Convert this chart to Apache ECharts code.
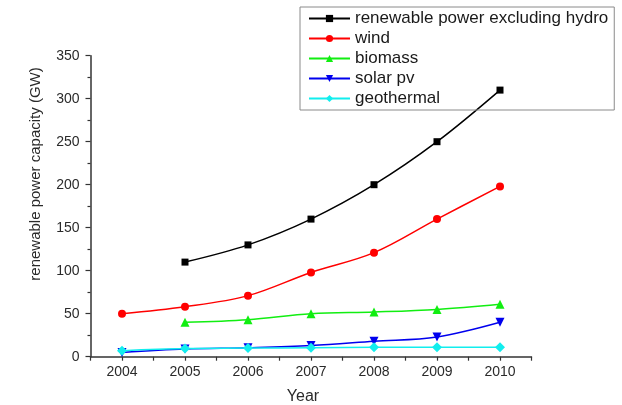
<!DOCTYPE html>
<html>
<head>
<meta charset="utf-8">
<script src="https://cdn.jsdelivr.net/npm/echarts@6/dist/echarts.min.js"></script>
<style>
html,body{margin:0;padding:0;background:#fff;}
#chart{width:622px;height:405px;}
</style>
</head>
<body>
<div id="chart"></div>
<script>
var years = [2004, 2005, 2006, 2007, 2008, 2009, 2010];
var seriesNames = ['renewable power excluding hydro', 'wind', 'biomass', 'solar pv', 'geothermal'];
var renewableExHydro = [null, 110, 130, 160, 200, 250, 310];
var wind = [50, 58, 71, 98, 121, 160, 198];
var biomass = [null, 40, 43, 50, 52, 55, 61];
var solarPv = [5, 9, 10.5, 13, 18, 23, 40];
var geothermal = [7, 9.5, 10, 10.5, 11, 11, 11];
var yTicks = [0, 50, 100, 150, 200, 250, 300, 350];
var xTitle = 'Year';
var yTitle = 'renewable power capacity (GW)';

function pairs(vals) {
  var out = [];
  for (var i = 0; i < years.length; i++) {
    if (vals[i] !== null) out.push([years[i], vals[i]]);
  }
  return out;
}

var styles = [
  {color: '#000000', symbol: 'rect', size: 7, rot: 0},
  {color: '#ff0000', symbol: 'circle', size: 8, rot: 0},
  {color: '#11ee11', symbol: 'triangle', size: 9, rot: 0},
  {color: '#0000ee', symbol: 'triangle', size: 9, rot: 180},
  {color: '#11eeee', symbol: 'diamond', size: 10, rot: 0}
];
var allData = [renewableExHydro, wind, biomass, solarPv, geothermal];

var series = seriesNames.map(function (name, i) {
  var s = styles[i];
  return {
    name: name,
    type: 'line',
    smooth: 0.35,
    data: pairs(allData[i]),
    symbol: s.symbol,
    symbolSize: s.size,
    symbolRotate: s.rot,
    showAllSymbol: true,
    itemStyle: {color: s.color},
    lineStyle: {color: s.color, width: 1.5},
    emphasis: {disabled: true},
    animation: false
  };
});

var chart = echarts.init(document.getElementById('chart'), null, {renderer: 'canvas'});
chart.setOption({
  animation: false,
  backgroundColor: '#ffffff',
  grid: {left: 90.5, right: 90.5, top: 55.7, bottom: 48.3, containLabel: false},
  legend: {
    orient: 'vertical',
    left: 300,
    top: 7,
    padding: [3, 6, 3, 8],
    itemGap: 3,
    itemWidth: 41,
    itemHeight: 9,
    borderColor: '#8a8a8a',
    borderWidth: 1,
    textStyle: {fontFamily: 'Liberation Sans, Arial, sans-serif', fontSize: 17, color: '#1a1a1a', lineHeight: 17},
    data: seriesNames
  },
  xAxis: {
    type: 'value',
    min: 2003.5,
    max: 2010.5,
    interval: 0.5,
    splitLine: {show: false},
    axisLine: {lineStyle: {color: '#333', width: 1.5}},
    axisTick: {show: true, length: 4, lineStyle: {color: '#333', width: 1.2}},
    axisLabel: {
      margin: 8,
      fontFamily: 'Liberation Sans, Arial, sans-serif',
      fontSize: 14,
      color: '#2a2a2a',
      formatter: function (v) { return (Math.abs(v - Math.round(v)) < 1e-6) ? String(Math.round(v)) : ''; }
    }
  },
  yAxis: {
    type: 'value',
    min: yTicks[0],
    max: yTicks[yTicks.length - 1],
    interval: 50,
    splitLine: {show: false},
    axisLine: {show: true, lineStyle: {color: '#333', width: 1.5}},
    axisTick: {show: true, length: 5, lineStyle: {color: '#333', width: 1.2}},
    minorTick: {show: true, splitNumber: 2, length: 3, lineStyle: {color: '#333', width: 1.2}},
    axisLabel: {margin: 11, fontFamily: 'Liberation Sans, Arial, sans-serif', fontSize: 14, color: '#2a2a2a'}
  },
  graphic: [
    {
      type: 'text',
      x: 36, y: 174,
      rotation: Math.PI / 2,
      style: {text: yTitle, fontFamily: 'Liberation Sans, Arial, sans-serif', fontSize: 15, fill: '#2a2a2a', align: 'center', verticalAlign: 'middle'}
    },
    {
      type: 'text',
      x: 303, y: 397,
      style: {text: xTitle, fontFamily: 'Liberation Sans, Arial, sans-serif', fontSize: 16, fill: '#2a2a2a', align: 'center', verticalAlign: 'middle'}
    }
  ],
  series: series
});
</script>
</body>
</html>
